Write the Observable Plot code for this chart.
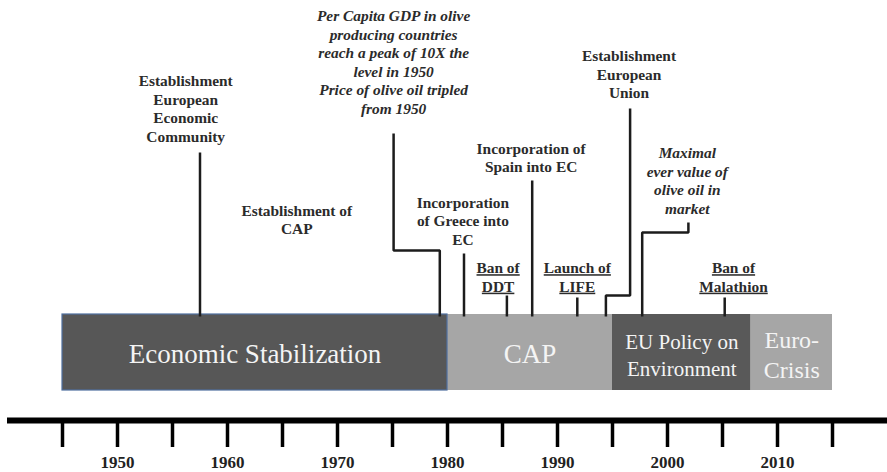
<!DOCTYPE html>
<html><head><meta charset="utf-8">
<script src="https://cdn.jsdelivr.net/npm/d3@7"></script>
<script src="https://cdn.jsdelivr.net/npm/@observablehq/plot@0.6"></script>
<style>
html,body{margin:0;padding:0;background:#fff;}
svg{display:block;}
</style></head><body><div id="chart"></div>
<script>
// ---- data ----
const periodNames = ["Economic Stabilization", "CAP", "EU Policy on\nEnvironment", "Euro-\nCrisis"];
const periodStart = [1945, 1980, 1995, 2007.6];
const periodEnd = [1980, 1995, 2007.6, 2015];
const tickYears = [1945, 1950, 1955, 1960, 1965, 1970, 1975, 1980, 1985, 1990, 1995, 2000, 2005, 2010, 2015];
const yearLabels = [1950, 1960, 1970, 1980, 1990, 2000, 2010];
const eventNames = [
  "Establishment\nEuropean\nEconomic\nCommunity",
  "Establishment of\nCAP",
  "Per Capita GDP in olive\nproducing countries\nreach a peak of 10X the\nlevel in 1950\nPrice of olive oil tripled\nfrom 1950",
  "Incorporation\nof Greece into\nEC",
  "Incorporation of\nSpain into EC",
  "Ban of\nDDT",
  "Launch of\nLIFE",
  "Establishment\nEuropean\nUnion",
  "Maximal\never value of\nolive oil in\nmarket",
  "Ban of\nMalathion"
];
const eventYears = [1957.5, 1962, 1979.3, 1981.5, 1987.7, 1985.4, 1991.8, 1994.4, 1997.7, 2005.2];
const eventKind = ["plain", "plain", "italic", "plain", "plain", "underline", "underline", "plain", "italic", "underline"];

// ---- layout (annotation placement, in x-years / elevation units) ----
const labelPos = [
  [1956.2, 312.5], [1966.3, 201.5], [1975.1, 359], [1981.4, 200], [1987.6, 263.5],
  [1984.6, 144], [1991.8, 144], [1996.5, 346.7], [2001.8, 240.5], [2006.0, 144]
];
// leader: [topElevation, elbowYear, elbowElevation] (elbow null = straight)
const leaderLayout = [
  [268, null, null], null, [287, 1975.1, 170], [167, null, null], [240, null, null],
  [125, null, null], [123, null, null], [312, 1996.6, 125], [198, 2001.9, 188], [123, null, null]
];
const barBottom = 30, barTop = 106, leaderEnd = 104;
const barColors = ["#575757", "#a6a6a6", "#595959", "#a6a6a6"];

const bars = periodNames.map((name, i) => ({name, start: periodStart[i], end: periodEnd[i], mid: (periodStart[i] + periodEnd[i]) / 2}));
const events = eventNames.map((text, i) => ({text, year: eventYears[i], kind: eventKind[i], lx: labelPos[i][0], ly: labelPos[i][1]}));
const leaders = [];
eventYears.forEach((yr, i) => {
  const L = leaderLayout[i];
  if (!L) return;
  if (L[1] == null) {
    leaders.push({id: i, x: yr, y: L[0]}, {id: i, x: yr, y: leaderEnd});
  } else {
    leaders.push({id: i, x: L[1], y: L[0]}, {id: i, x: L[1], y: L[2]}, {id: i, x: yr, y: L[2]}, {id: i, x: yr, y: leaderEnd});
  }
});

const font = "Liberation Serif";
const annText = (kind, extra) => Plot.text(events.filter(d => d.kind === kind), {
  x: "lx", y: "ly", text: "text", fill: "#2b2b2b", fontWeight: "bold", fontSize: 15.4,
  lineHeight: 1.2, fontFamily: font, ...extra
});
const barText = (i, size, lh) => Plot.text([bars[i]], {
  x: "mid", y: 67, text: "name", fill: "#f4f4f4", fontSize: size, lineHeight: lh, fontFamily: font
});

const chart = Plot.plot({
  width: 887, height: 472,
  marginLeft: 7, marginRight: 0, marginTop: 0, marginBottom: 52,
  x: {domain: [1940, 2020], axis: null},
  y: {domain: [0, 420], axis: null},
  color: {domain: periodNames, range: barColors},
  marks: [
    Plot.rect(bars, {x1: "start", x2: "end", y1: barBottom, y2: barTop, fill: "name"}),
    Plot.rect([bars[0]], {x1: "start", x2: "end", y1: barBottom, y2: barTop, fill: "none", stroke: "#4f6f9f", strokeWidth: 1.2}),
    barText(0, 27, 1.1),
    barText(1, 27, 1.1),
    barText(2, 21, 1.28),
    barText(3, 24, 1.25),
    Plot.line(leaders, {x: "x", y: "y", z: "id", stroke: "#1c1c1c", strokeWidth: 2.5, curve: "linear", strokeLinejoin: "miter", strokeLinecap: "butt"}),
    annText("plain"),
    annText("italic", {fontStyle: "italic"}),
    annText("underline"),
    Plot.ruleY([0], {x1: 1940, x2: 2020, stroke: "#000", strokeWidth: 6}),
    Plot.ruleX(tickYears, {y1: -3, y2: -27, stroke: "#000", strokeWidth: 3.5}),
    Plot.text(yearLabels, {x: d => d, y: -42, text: d => String(d), fill: "#222", fontWeight: "bold", fontSize: 17, fontFamily: font})
  ]
});
chart.setAttribute("font-family", font);
const underlined = new Set(events.filter(d => d.kind === "underline").flatMap(d => d.text.split("\n")));
chart.querySelectorAll("text, tspan").forEach(el => {
  el.style.fontFamily = font;
  if (el.tagName === "tspan" || el.childElementCount === 0) {
    if (underlined.has(el.textContent)) el.style.textDecoration = "underline";
  }
});
document.getElementById("chart").appendChild(chart);
</script>
</body></html>
